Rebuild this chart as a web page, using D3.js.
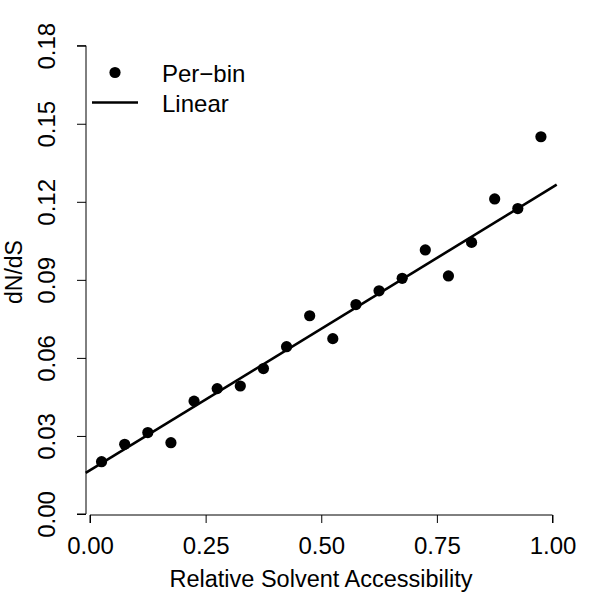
<!doctype html>
<html lang="en">
  <head>
    <meta charset="utf-8" />
    <title>dN/dS vs Relative Solvent Accessibility</title>
    <script src="https://cdn.jsdelivr.net/npm/d3@7/dist/d3.min.js"></script>
    <style>
      body { margin: 0; background: #fff; }
      text { font-family: "Liberation Sans", Arial, Helvetica, sans-serif; fill: #000; }
    </style>
  </head>
  <body>
    <svg id="main" width="600" height="600"></svg>

    <script>
      // bin centres and per-bin dN/dS
      const binCenters = [0.025, 0.075, 0.125, 0.175, 0.225, 0.275, 0.325, 0.375, 0.425, 0.475,
                          0.525, 0.575, 0.625, 0.675, 0.725, 0.775, 0.825, 0.875, 0.925, 0.975];
      const dnds = [0.0201, 0.0268, 0.0313, 0.0274, 0.0434, 0.0482, 0.0492, 0.0559, 0.0643, 0.0762,
                    0.0674, 0.0805, 0.0858, 0.0906, 0.1015, 0.0915, 0.1044, 0.1211, 0.1174, 0.1450];
      // linear fit drawn across the plot region
      const fitIntercept = 0.0168;
      const fitSlope = 0.1088;

      const xTicks = [0, 0.25, 0.5, 0.75, 1];
      const yTicks = [0, 0.03, 0.06, 0.09, 0.12, 0.15, 0.18];

      const svg = d3.select('#main');
      const x = d3.scaleLinear().domain([0, 1]).range([90, 552.5]);
      const y = d3.scaleLinear().domain([0, 0.18]).range([514, 45.7]);
      const xLo = x.invert(85.7);
      const xHi = x.invert(556.7);

      // x axis
      const xAxis = svg.append('g')
        .attr('transform', 'translate(0,515)')
        .call(d3.axisBottom(x).tickValues(xTicks).tickFormat(d3.format('.2f')).tickSize(8).tickPadding(14));
      xAxis.select('.domain').attr('d', `M${x(0)},8V0H${x(1)}V8`);

      // y axis
      const yAxis = svg.append('g')
        .attr('transform', 'translate(86,0)')
        .call(d3.axisLeft(y).tickValues(yTicks).tickFormat(d3.format('.2f')).tickSize(9));
      yAxis.select('.domain').attr('d', `M-9,${y(0.18)}H0V${y(0)}H-9`);

      svg.selectAll('.tick line, .domain').attr('stroke', '#000').attr('stroke-width', 1);
      xAxis.selectAll('.tick text')
        .style('font-size', '24px').attr('font-family', null).attr('dy', '0.71em');
      yAxis.selectAll('.tick text')
        .style('font-size', '24px').attr('font-family', null)
        .attr('text-anchor', 'middle').attr('x', 0).attr('y', 0).attr('dy', null)
        .attr('transform', 'translate(-31,0) rotate(-90)');

      // axis titles
      svg.append('text')
        .attr('x', 321).attr('y', 587)
        .attr('text-anchor', 'middle')
        .style('font-size', '23.5px')
        .text('Relative Solvent Accessibility');
      svg.append('text')
        .attr('transform', 'translate(22,272) rotate(-90)')
        .attr('text-anchor', 'middle')
        .style('font-size', '23px')
        .text('dN/dS');

      // fit line
      svg.append('line')
        .attr('x1', x(xLo)).attr('y1', y(fitIntercept + fitSlope * xLo))
        .attr('x2', x(xHi)).attr('y2', y(fitIntercept + fitSlope * xHi))
        .attr('stroke', '#000').attr('stroke-width', 2.6);

      // per-bin points
      svg.append('g')
        .selectAll('circle')
        .data(binCenters)
        .join('circle')
        .attr('cx', (d) => x(d))
        .attr('cy', (d, i) => y(dnds[i]))
        .attr('r', 5.6)
        .attr('fill', '#000');

      // legend
      const legend = svg.append('g');
      legend.append('circle').attr('cx', 115).attr('cy', 72.5).attr('r', 5.6).attr('fill', '#000');
      legend.append('line')
        .attr('x1', 92).attr('x2', 138).attr('y1', 102.5).attr('y2', 102.5)
        .attr('stroke', '#000').attr('stroke-width', 2.6);
      legend.append('text').attr('x', 162).attr('y', 81.5).style('font-size', '24px').text('Per\u2212bin');
      legend.append('text').attr('x', 162).attr('y', 111.5).style('font-size', '24px').text('Linear');
    </script>
  </body>
</html>
